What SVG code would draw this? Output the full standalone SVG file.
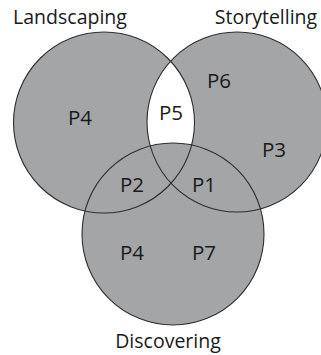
<svg xmlns="http://www.w3.org/2000/svg" width="321" height="355" viewBox="0 0 321 355">
  <style>
    .set { fill: #a3a5a7; }
    .edge { fill: none; stroke: #2e2e2e; stroke-width: 1.1; }
    .title { font-family: "Open Sans", "Noto Sans", sans-serif; font-size: 19.5px; fill: #1a1a1a; text-anchor: middle; }
    .lbl { font-family: "Open Sans", "Noto Sans", sans-serif; font-size: 20.5px; fill: #1a1a1a; text-anchor: middle; }
  </style>
  <defs>
    <clipPath id="clipR"><circle cx="237" cy="122" r="90"/></clipPath>
    <clipPath id="clipL"><circle cx="104" cy="122.5" r="90.5"/></clipPath>
  </defs>
  <rect width="321" height="355" fill="#ffffff"/>
  <g id="fills">
    <circle class="set" cx="104" cy="122.5" r="90.5"/>
    <circle class="set" cx="237" cy="122" r="90"/>
    <circle class="set" cx="173" cy="234" r="91"/>
    <g clip-path="url(#clipR)">
      <circle cx="104" cy="122.5" r="90.5" fill="#ffffff"/>
      <g clip-path="url(#clipL)">
        <circle class="set" cx="173" cy="234" r="91"/>
      </g>
    </g>
  </g>
  <g id="landscaping">
    <circle class="edge" cx="104" cy="122.5" r="90.5"/>
    <text class="title" x="70" y="24">Landscaping</text>
  </g>
  <g id="storytelling">
    <circle class="edge" cx="237" cy="122" r="90"/>
    <text class="title" x="266" y="24">Storytelling</text>
  </g>
  <g id="discovering">
    <circle class="edge" cx="173" cy="234" r="91"/>
    <text class="title" x="168" y="348">Discovering</text>
  </g>
  <g id="labels">
    <text class="lbl" x="80" y="125">P4</text>
    <text class="lbl" x="171" y="120">P5</text>
    <text class="lbl" x="219" y="88">P6</text>
    <text class="lbl" x="274" y="157">P3</text>
    <text class="lbl" x="132" y="192">P2</text>
    <text class="lbl" x="204" y="192">P1</text>
    <text class="lbl" x="132" y="260">P4</text>
    <text class="lbl" x="204" y="260">P7</text>
  </g>
  <g id="connectors"/>
</svg>
